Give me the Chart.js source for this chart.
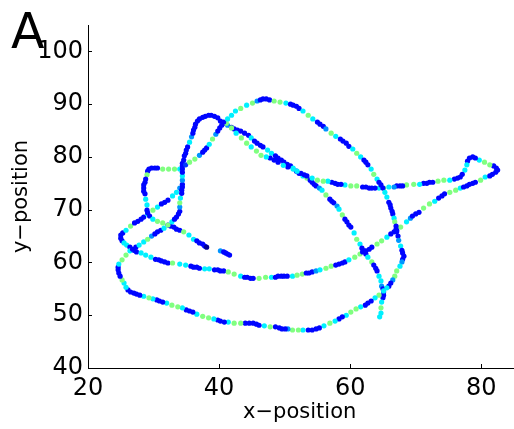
<!DOCTYPE html>
<html>
<head>
<meta charset="utf-8">
<script src="https://cdn.jsdelivr.net/npm/chart.js@4.4.0/dist/chart.umd.min.js"></script>
<style>
  body { margin: 0; background: #fff; }
  canvas { display: block; }
</style>
</head>
<body>
<canvas id="trackChart" width="514" height="429"></canvas>
<script>
// ==================== DATA ====================
// each sample is [x, y, speed]; speed is scaled 0..1 for the jet colour map

// big outer loop: diagonal up to the top arc, right side down, bottom, back up the left
var outerLoop = [
  [34.9,78.5,.18],[35.5,79.0,.5],[36.3,79.6,.5],[37.0,80.3,.27],[37.5,80.9,.13],[37.8,81.3,.13],[38.1,81.7,.13],
  [38.5,82.4,.36],[39.0,83.4,.5],[39.5,84.3,.27],[39.8,84.9,.13],[40.1,85.5,.13],[40.4,86.0,.13],[40.7,86.6,.13],
  [41.3,87.2,.36],[41.9,87.9,.36],[42.5,88.7,.36],[43.3,89.2,.5],[44.2,89.8,.36],[45.1,90.2,.5],[45.8,90.6,.27],
  [46.3,90.8,.13],[46.7,91.0,.13],[47.2,91.0,.13],[47.7,90.8,.13],[48.4,90.6,.5],[49.3,90.4,.5],[50.2,90.2,.36],
  [50.9,90.0,.13],[51.3,89.8,.13],[51.8,89.6,.13],[52.2,89.2,.13],[52.8,88.7,.36],[53.6,87.9,.5],[54.3,87.2,.36],
  [55.0,86.6,.13],[55.4,86.2,.13],[55.9,85.8,.13],[56.3,85.3,.27],[57.1,84.5,.5],[57.8,83.9,.36],[58.5,83.4,.13],
  [58.9,83.0,.13],[59.4,82.6,.13],[59.8,82.0,.13],[60.4,81.5,.36],[61.0,80.7,.5],[61.6,80.0,.36],[62.1,79.4,.13],
  [62.4,79.0,.13],[62.7,78.5,.13],[63.2,77.7,.36],[63.6,76.7,.5],[64.1,75.8,.36],[64.4,75.2,.13],[64.7,74.7,.13],
  [65.0,74.1,.13],[65.3,73.3,.36],[65.6,72.4,.36],[65.9,71.4,.13],[66.1,70.9,.13],[66.2,70.3,.13],[66.4,69.7,.13],
  [66.5,69.2,.13],[66.7,68.4,.36],[66.8,67.7,.5],[67.0,66.9,.13],[67.0,66.3,.13],[67.1,65.8,.13],[67.3,65.0,.13],
  [67.4,64.2,.27],[67.7,63.1,.36],[67.9,62.3,.13],[68.0,61.8,.13],[68.2,61.2,.13],[68.0,60.6,.13],[67.9,60.1,.27],
  [67.6,59.3,.36],[67.1,58.4,.5],[66.8,57.4,.5],[66.5,56.7,.27],[66.2,56.1,.13],[65.9,55.5,.13],[65.6,55.2,.36],
  [65.1,54.6,.36],[64.4,53.8,.5],[63.8,53.3,.36],[63.2,52.7,.13],[62.7,52.3,.13],[62.3,51.9,.13],[61.6,51.6,.36],
  [60.9,51.2,.5],[60.1,50.6,.5],[59.4,50.0,.36],[58.8,49.7,.13],[58.3,49.3,.13],[57.7,48.9,.36],[56.9,48.5,.5],
  [56.0,48.0,.36],[55.3,47.6,.13],[54.8,47.4,.13],[54.2,47.2,.13],[53.6,47.2,.13],[52.8,47.2,.36],[52.1,47.2,.5],
  [51.2,47.2,.5],[50.5,47.4,.27],[50.1,47.4,.13],[49.6,47.4,.13],[49.2,47.6,.13],[48.6,47.8,.13],[47.8,47.8,.5],
  [46.9,48.0,.36],[46.1,48.1,.13],[45.7,48.3,.13],[45.2,48.5,.13],[44.6,48.5,.13],[44.0,48.5,.13],[43.3,48.5,.5],
  [42.3,48.5,.5],[41.4,48.7,.36],[40.8,48.7,.13],[40.2,48.9,.13],[39.8,49.1,.13],[39.2,49.3,.36],[38.4,49.5,.5],
  [37.5,49.8,.5],[36.6,50.2,.36],[36.0,50.6,.13],[35.5,50.8,.13],[35.0,51.0,.13],[34.4,51.4,.36],[33.7,51.6,.5],
  [32.8,51.9,.5],[32.0,52.3,.36],[31.4,52.5,.13],[30.9,52.7,.13],[30.5,52.9,.13],[29.9,53.1,.36],[29.3,53.3,.5],
  [28.5,53.6,.36],[27.9,53.8,.13],[27.4,54.0,.13],[27.0,54.2,.13],[26.5,54.4,.13],[26.1,54.8,.13],[25.8,55.3,.36],
  [25.5,56.1,.36],[25.2,56.7,.5],[24.9,57.4,.13],[24.7,58.0,.13],[24.6,58.6,.13],[24.6,59.1,.13],[24.7,59.7,.36],
  [25.2,60.5,.5],[25.8,61.4,.5],[26.4,62.2,.36],[26.8,62.5,.13],[27.3,62.9,.13],[27.8,63.3,.36],[28.5,63.9,.36],
  [29.1,64.4,.5],[29.7,65.0,.27],[30.2,65.4,.13],[30.6,65.8,.13],[31.1,66.1,.13],[31.6,66.5,.36],[32.2,67.1,.5],
  [32.8,67.7,.36],[33.2,68.2,.13],[33.5,68.6,.13],[33.8,69.2,.13],[34.0,69.7,.13],[34.0,70.5,.27],[34.0,71.3,.5],
  [34.1,72.2,.36],[34.3,73.1,.13],[34.3,73.7,.13],[34.4,74.3,.13],[34.4,74.8,.13],[34.4,75.6,.27],[34.4,76.4,.36],
  [34.4,77.1,.13],[34.4,77.7,.13]
];

// middle loop: left corner, along the bottom and up to the right-hand tip
var middleLoop = [
  [25.0,65.2,.13],[25.0,64.6,.13],[25.2,64.1,.13],[25.5,63.7,.36],[25.9,63.3,.36],[26.4,62.9,.13],[27.0,62.3,.13],
  [27.4,62.0,.13],[28.1,61.8,.36],[28.8,61.4,.36],[29.6,61.0,.36],[30.3,60.6,.13],[30.8,60.5,.13],[31.2,60.3,.13],
  [31.7,60.1,.13],[32.2,59.9,.13],[32.9,59.9,.5],[34.0,59.7,.36],[34.9,59.5,.36],[35.7,59.3,.13],[36.1,59.1,.13],
  [36.6,59.1,.13],[37.0,58.9,.13],[37.8,58.8,.36],[38.5,58.8,.36],[39.3,58.6,.13],[39.8,58.6,.13],[40.2,58.4,.13],
  [40.7,58.4,.13],[41.4,58.2,.5],[42.3,57.8,.5],[43.3,57.4,.36],[43.9,57.2,.13],[44.3,57.2,.13],[44.8,57.0,.13],
  [45.2,57.0,.13],[46.1,57.0,.5],[47.1,57.2,.5],[48.0,57.2,.36],[48.6,57.2,.13],[49.0,57.4,.13],[49.5,57.4,.13],
  [49.9,57.4,.13],[50.4,57.4,.13],[51.2,57.4,.36],[51.9,57.6,.5],[52.7,57.8,.5],[53.3,58.0,.13],[53.7,58.0,.13],
  [54.2,58.2,.13],[54.8,58.4,.27],[55.4,58.6,.36],[56.3,58.9,.5],[57.1,59.3,.5],[57.8,59.5,.13],[58.3,59.7,.13],
  [58.8,59.9,.13],[59.2,60.1,.13],[59.8,60.5,.36],[60.7,61.0,.5],[61.5,61.6,.5],[61.9,62.0,.13],[62.4,62.2,.13],
  [62.9,62.5,.13],[63.3,62.9,.13],[64.1,63.5,.5],[64.8,64.1,.5],[65.6,64.8,.36],[66.2,65.4,.13],[66.7,65.8,.13],
  [67.1,66.1,.13],[67.7,66.7,.5],[68.6,67.7,.36],[69.2,68.4,.27],[69.5,68.8,.13],[70.0,69.2,.13],[70.5,69.5,.13],
  [71.2,70.3,.5],[72.1,71.1,.5],[72.9,71.6,.36],[73.5,72.2,.13],[74.0,72.6,.13],[74.4,73.0,.13],[75.2,73.3,.5],
  [76.1,73.7,.5],[76.8,74.1,.36],[77.3,74.3,.13],[77.8,74.5,.13],[78.2,74.8,.13],[78.7,75.0,.13],[79.1,75.2,.13],
  [79.9,75.6,.5],[80.6,76.2,.36],[81.3,76.4,.13],[81.7,76.7,.13],[82.2,77.1,.13],[82.5,77.5,.13]
];

// tip, the hook, the long flat run back left and the climb to the top crossing
var hookLine = [
  [82.3,77.9,.13],[81.9,78.3,.13],[81.3,78.5,.5],[80.5,79.0,.5],[79.7,79.4,.36],[79.1,79.8,.13],[78.7,80.0,.13],
  [78.2,79.8,.13],[77.9,79.2,.13],[77.8,78.5,.36],[77.5,77.5,.36],[77.1,76.7,.13],[76.8,76.2,.13],[76.4,76.0,.13],
  [75.9,75.8,.13],[75.2,75.6,.36],[74.3,75.6,.5],[73.4,75.4,.5],[72.6,75.2,.13],[72.1,75.2,.13],[71.7,75.0,.13],
  [71.2,75.0,.13],[70.6,74.8,.36],[69.7,74.8,.5],[68.6,74.7,.5],[68.0,74.5,.13],[67.6,74.5,.13],[67.1,74.5,.13],
  [66.7,74.3,.27],[65.9,74.3,.36],[65.1,74.1,.5],[64.4,74.1,.36],[63.8,74.1,.13],[63.3,74.1,.13],[62.9,74.1,.13],
  [62.4,74.3,.13],[61.9,74.3,.13],[61.0,74.5,.5],[60.1,74.5,.5],[59.2,74.7,.36],[58.6,74.8,.13],[58.1,74.8,.13],
  [57.7,75.0,.13],[57.2,75.2,.13],[56.6,75.4,.36],[55.9,75.4,.5],[55.0,75.6,.5],[54.2,76.0,.36],[53.4,76.4,.13],
  [53.0,76.6,.13],[52.5,76.9,.13],[51.9,77.3,.36],[51.3,77.7,.36],[50.5,78.1,.13],[49.8,78.4,.36],[49.0,79.0,.13],
  [48.4,79.4,.13],[47.8,79.8,.13],[47.2,80.0,.36],[46.4,80.3,.5],[45.7,81.1,.5],[44.9,81.9,.36],[44.2,82.6,.5],
  [43.4,83.6,.5],[42.6,84.5,.36],[41.9,85.5,.5],[41.1,86.4,.5]
];

// upper loop, then the descent through both crossings to the loose end
var upperLoop = [
  [34.4,78.3,.13],[34.4,78.8,.13],[34.6,79.4,.13],[34.7,80.2,.13],[34.9,80.7,.13],[35.0,81.3,.13],[35.2,81.9,.13],
  [35.5,82.8,.36],[35.8,83.8,.27],[36.0,84.5,.13],[36.1,85.1,.13],[36.3,85.6,.13],[36.4,86.2,.13],[36.7,86.8,.13],
  [37.0,87.2,.13],[37.5,87.5,.13],[37.9,87.7,.13],[38.4,87.9,.13],[38.8,87.9,.13],[39.3,87.7,.13],[39.8,87.4,.13],
  [40.2,86.8,.13],[40.7,86.4,.13],[41.3,86.0,.27],[41.9,85.6,.13],[42.3,85.3,.13],[42.8,85.1,.13],[43.3,84.9,.13],
  [43.9,84.5,.13],[44.5,84.1,.13],[44.9,83.6,.36],[45.4,83.0,.13],[45.8,82.6,.13],[46.3,82.2,.13],[46.7,81.9,.13],
  [47.4,81.3,.36],[48.0,80.7,.36],[48.6,80.2,.13],[49.0,79.8,.13],[49.5,79.4,.13],[49.9,79.0,.13],[50.4,78.6,.13],
  [50.9,78.3,.13],[51.3,77.9,.36],[51.8,77.3,.13],[52.2,76.9,.13],[52.8,76.4,.36],[53.4,76.0,.5],[53.9,75.6,.13],
  [54.2,75.2,.13],[54.5,74.8,.13],[54.8,74.5,.13],[55.3,74.1,.27],[55.7,73.7,.36],[56.3,72.8,.5],[56.9,72.0,.13],
  [57.2,71.6,.13],[57.5,71.3,.13],[58.0,70.7,.27],[58.3,70.1,.36],[58.8,69.0,.5],[59.2,68.2,.13],[59.5,67.7,.13],
  [59.8,67.1,.13],[60.1,66.7,.13],[60.6,65.6,.36],[61.0,64.4,.5],[61.5,63.5,.36],[61.8,62.7,.13],[62.1,62.2,.13],
  [62.4,61.6,.13],[62.7,61.0,.36],[63.3,60.1,.5],[63.6,59.5,.13],[63.9,58.9,.13],[64.1,58.4,.13],[64.4,57.4,.36],
  [64.7,56.5,.36],[64.8,55.5,.27],[65.0,55.0,.13],[65.1,54.4,.13],[65.1,53.8,.13],[65.0,53.3,.13],[64.8,52.5,.36],
  [64.7,51.4,.5],[64.7,50.4,.36],[64.5,49.7,.36]
];

// small loop on the left, ending at the first sample
var smallLoop = [
  [34.0,77.7,.36],[33.2,77.7,.5],[32.3,77.7,.5],[31.4,77.7,.5],[30.6,77.9,.13],[30.2,77.9,.13],[29.7,77.9,.13],
  [29.3,77.7,.13],[29.1,77.3,.13],[29.0,76.6,.5],[28.8,75.8,.13],[28.7,75.2,.13],[28.5,74.7,.13],[28.5,74.1,.13],
  [28.5,73.5,.13],[28.7,73.0,.13],[28.8,72.0,.36],[29.0,70.9,.36],[29.0,69.9,.13],[29.1,69.4,.13],[29.4,68.8,.13],
  [29.9,68.2,.36],[30.6,67.8,.5],[31.4,67.5,.5],[32.2,67.1,.13],[32.6,66.9,.13],[33.1,66.7,.13],[33.5,66.3,.13],
  [34.0,66.1,.13],[34.6,65.8,.5],[35.4,65.2,.36],[36.1,64.4,.36],[36.6,64.1,.13],[37.0,63.7,.13],[37.5,63.5,.13],
  [37.8,63.1,.13],[38.1,62.9,.02]
];

// diagonal from the left corner up to the small loop
var crossLine = [
  [25.3,65.6,.13],[25.8,66.1,.36],[26.5,66.9,.5],[27.1,67.5,.13],[27.6,67.8,.13],[28.1,68.2,.13],[28.5,68.6,.13],
  [29.1,69.2,.36],[29.9,69.9,.5],[30.6,70.5,.36],[31.2,71.1,.13],[31.7,71.4,.13],[32.2,71.8,.13],[32.9,72.6,.36],
  [33.5,73.3,.36],[34.0,74.1,.27]
];

// short piece just right of the start
var lastBit = [
  [40.2,62.2,.27],[40.7,62.0,.13],[41.0,61.8,.13],[41.3,61.6,.13],[41.6,61.4,.13]
];

var xTicks = [20, 40, 60, 80];
var yTicks = [40, 50, 60, 70, 80, 90, 100];

// ==================== HELPERS ====================
function jet(v) {
  function c(t) { return Math.round(255 * Math.max(0, Math.min(1, t))); }
  var r = c(1.5 - Math.abs(4 * v - 3));
  var g = c(1.5 - Math.abs(4 * v - 2));
  var b = c(1.5 - Math.abs(4 * v - 1));
  return 'rgb(' + r + ',' + g + ',' + b + ')';
}

function armarDataset(track) {
  return {
    data: track.map(function (p) { return { x: p[0], y: p[1] }; }),
    pointBackgroundColor: track.map(function (p) { return jet(p[2]); }),
    pointBorderWidth: 0,
    pointRadius: 2.6,
    pointHoverRadius: 2.6,
    showLine: false
  };
}

// axis lines, inward tick marks and the panel letter
var ejesPlugin = {
  id: 'ejes',
  afterDraw: function (chart) {
    var ctx = chart.ctx, area = chart.chartArea;
    var xs = chart.scales.x, ys = chart.scales.y;
    ctx.save();
    ctx.strokeStyle = '#000';
    ctx.lineWidth = 1;
    ctx.beginPath();
    ctx.moveTo(area.left + 0.5, area.top);
    ctx.lineTo(area.left + 0.5, area.bottom + 0.5);
    ctx.lineTo(chart.width, area.bottom + 0.5);
    xTicks.forEach(function (v) {
      var px = Math.round(xs.getPixelForValue(v)) + 0.5;
      ctx.moveTo(px, area.bottom);
      ctx.lineTo(px, area.bottom - 4);
    });
    yTicks.forEach(function (v) {
      var py = Math.round(ys.getPixelForValue(v)) + 0.5;
      ctx.moveTo(area.left, py);
      ctx.lineTo(area.left + 4, py);
    });
    ctx.stroke();
    ctx.fillStyle = '#000';
    ctx.font = '49px "DejaVu Sans"';
    ctx.textBaseline = 'alphabetic';
    ctx.fillText('A', 11, 48);
    ctx.restore();
  }
};

// ==================== CHART ====================
function init() {
  var ctx = document.getElementById('trackChart').getContext('2d');
  new Chart(ctx, {
    type: 'scatter',
    data: {
      datasets: [outerLoop, middleLoop, hookLine, upperLoop, smallLoop, crossLine, lastBit].map(armarDataset)
    },
    options: {
      responsive: false,
      animation: false,
      layout: { padding: { top: 25, right: 1, left: 0, bottom: 0 } },
      plugins: { legend: { display: false }, tooltip: { enabled: false } },
      scales: {
        x: {
          type: 'linear',
          min: 20,
          max: 84.6,
          afterBuildTicks: function (s) { s.ticks = xTicks.map(function (v) { return { value: v }; }); },
          afterFit: function (s) { s.height = 61; },
          grid: { display: false, drawTicks: false },
          border: { display: false },
          ticks: {
            autoSkip: false,
            maxRotation: 0,
            padding: 6,
            color: '#000',
            font: { family: 'DejaVu Sans', size: 24 }
          },
          title: {
            display: true,
            text: 'x\u2212position',
            color: '#000',
            font: { family: 'DejaVu Sans', size: 21 },
            padding: { top: 0, bottom: 4 }
          }
        },
        y: {
          type: 'linear',
          min: 40,
          max: 105,
          afterBuildTicks: function (s) { s.ticks = yTicks.map(function (v) { return { value: v }; }); },
          afterFit: function (s) { s.width = 88; },
          grid: { display: false, drawTicks: false },
          border: { display: false },
          ticks: {
            autoSkip: false,
            padding: 5,
            color: '#000',
            font: { family: 'DejaVu Sans', size: 24 }
          },
          title: {
            display: true,
            text: 'y\u2212position',
            color: '#000',
            font: { family: 'DejaVu Sans', size: 21 },
            padding: { top: 9, bottom: 0 }
          }
        }
      }
    },
    plugins: [ejesPlugin]
  });
}

init();
</script>
</body>
</html>
